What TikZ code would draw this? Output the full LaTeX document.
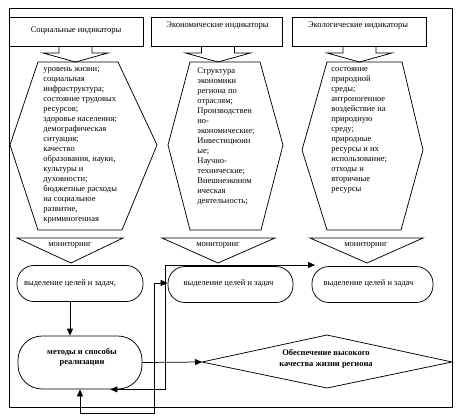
\documentclass[tikz,border=0pt]{standalone}
\usepackage{fontspec}
\setmainfont{Liberation Serif}
\usetikzlibrary{arrows.meta,calc}
\begin{document}
\begin{tikzpicture}[x=1pt,y=-1pt,line width=0.75pt,
  font=\fontsize{8.5}{10}\selectfont,
  hdr/.style={draw,inner sep=0pt,minimum width=#1,minimum height=29pt},
  rbox/.style={draw,rounded corners=17pt,inner sep=0pt,minimum width=#1,minimum height=36pt},
  txt/.style={inner sep=0pt},
  hextxt/.style={inner sep=0pt,anchor=north west,align=left},
  tip/.tip={Triangle[length=7pt,width=6pt]},
  conn/.style={line width=0.75pt}]
\useasboundingbox (0,0) rectangle (457,417);
% outer frame
\draw (9,8) rectangle (452,407);
% header boxes
\node[hdr=134pt] (h1) at (76,31.5) {};
\node[hdr=131pt] (h2) at (216.5,31.5) {};
\node[hdr=134pt] (h3) at (359,32) {};
\node[txt] (h1t) at (76,31) {Социальные индикаторы};
\node[txt] (h2t) at (217.5,25.5) {Экономические индикаторы};
\node[txt] (h3t) at (358,25.5) {Экологические индикаторы};
% block arrows
\foreach \c in {75.5,218,359.5}{
  \draw (\c-16.5,46) -- (\c-16.5,53) -- (\c-32.5,53) -- (\c,62) -- (\c+32.5,53) -- (\c+16.5,53) -- (\c+16.5,46);
}
% hexagons
\draw (38,62) -- (118,62) -- (157,145) -- (122,230) -- (38,230) -- (10,145) -- cycle;
\draw (190,62) -- (260,62) -- (283,145) -- (261,230) -- (190,230) -- (168,145) -- cycle;
\draw (327,62) -- (402,62) -- (423,150) -- (401,230) -- (327,230) -- (302,150) -- cycle;
\node[hextxt] (x1) at (43,67.5) {уровень жизни;\\социальная\\инфраструктура;\\состояние трудовых\\ресурсов;\\здоровье населения;\\демографическая\\ситуация;\\качество\\образования, науки,\\культуры и\\духовности;\\бюджетные расходы\\на социальное\\развитие,\\криминогенная};
\node[hextxt] (x2) at (197,67.5) {Структура\\экономики\\региона по\\отраслям;\\Производствен\\но-\\экономические;\\Инвестиционн\\ые;\\Научно-\\технические;\\Внешнеэконом\\ическая\\деятельность;};
\node[hextxt] (x3) at (331,67.5) {состояние\\природной\\среды;\\антропогенное\\воздействие на\\природную\\среду;\\природные\\ресурсы и их\\использование;\\отходы и\\вторичные\\ресурсы};
% monitoring triangles
\draw (17,238) -- (123,238) -- (71,263) -- cycle;
\draw (162,238) -- (275,238) -- (218,263) -- cycle;
\draw (310,238) -- (423,238) -- (367,263) -- cycle;
\node[txt] (m1) at (70,245.5) {мониторинг};
\node[txt] (m2) at (218,245.5) {мониторинг};
\node[txt] (m3) at (366,245.5) {мониторинг};
% rounded boxes
\node[rbox=126pt] (A) at (80,283.5) {};
\node[rbox=125pt] (B) at (230.5,284.5) {};
\node[rbox=121pt] (C) at (372.5,284.5) {};
\node[txt] (At) at (70,283) {выделение целей и задач,};
\node[txt] (Bt) at (228.5,283) {выделение целей и задач};
\node[txt] (Ct) at (368.5,283) {выделение целей и задач};
\node[draw,rounded corners=24pt,minimum width=124pt,minimum height=53pt,inner sep=0pt] (D) at (80,362.5) {};
\node[txt,align=center,font=\fontsize{8.5}{10}\selectfont\bfseries] (Dt) at (82,357) {методы и способы\\реализации};
% diamond
\draw (202,362) -- (327,335) -- (452,362) -- (327,388) -- cycle;
\coordinate (dl) at (202,362);
\node[txt,align=center,font=\fontsize{8.5}{11.5}\selectfont\bfseries] (Et) at (326,359) {Обеспечение высокого\\качества жизни региона};
\coordinate (cc) at (315,265);
% connectors
\draw[conn,-tip] (At |- A.south) -- (At |- D.north);
\draw[conn,-tip] (D.east) -- (dl);
\draw[conn,tip-tip] (D.south) -- ++(0,24) -| ($(B.west)+(-13,-1.5)$) -- ($(B.west)+(0,-1.5)$);
\draw[conn,tip-tip] ($(D.south east)+(-32,0)$) -- ++(55,0) |- (cc);
\end{tikzpicture}
\end{document}
